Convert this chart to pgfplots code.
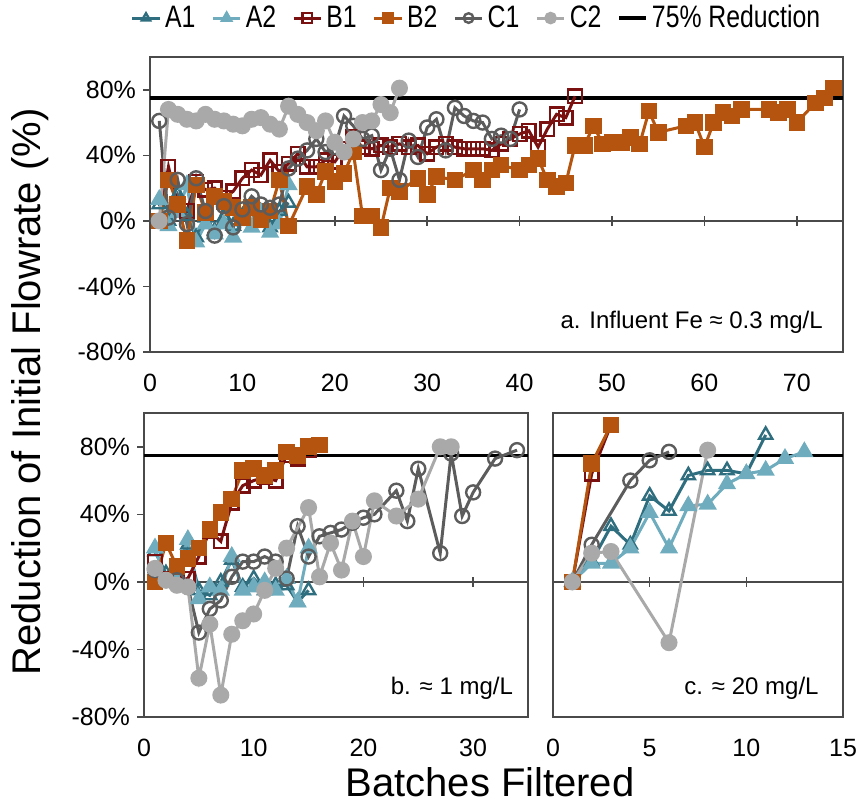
\documentclass[border=0pt]{standalone}
\usepackage{fontspec}
\setmainfont{Liberation Sans}
\newfontfamily\narrowfont[FakeStretch=0.8]{Liberation Sans}
\usepackage{pgfplots}
\pgfplotsset{compat=1.18}

\definecolor{aOne}{HTML}{2F6E7F}
\definecolor{aTwo}{HTML}{6FADBE}
\definecolor{bOne}{HTML}{7A1010}
\definecolor{bTwo}{HTML}{B4540F}
\definecolor{cOne}{HTML}{5C5C5C}
\definecolor{cTwo}{HTML}{A9A9A9}
\definecolor{axgray}{HTML}{4A4A4A}

\pgfplotsset{
  panel/.style={
    scale only axis,
    ymin=-80, ymax=100,
    ytick={-80,-40,0,40,80},
    yticklabel={\pgfmathprintnumber{\tick}\%},
    /pgf/number format/assume math mode=true,
    tick label style={font=\fontsize{12.5}{14}\selectfont},
    axis line style={draw=axgray, line width=0.8pt},
    tick align=outside,
    ytick pos=left,
    major tick length=3.5pt,
    ytick style={draw=axgray, line width=0.8pt},
    xtick style={draw=none},
    xticklabel style={yshift=-4pt},
    clip=false,
  },
  sA1/.style={color=aOne, line width=1.5pt, mark=triangle, mark size=3.8pt,
              mark options={line width=1.2pt, fill=white, solid}},
  sA2/.style={color=aTwo, line width=1.5pt, mark=triangle*, mark size=3.8pt,
              mark options={fill=aTwo, solid}},
  sB1/.style={color=bOne, line width=1.5pt, mark=square, mark size=3.4pt,
              mark options={line width=1.2pt, fill=white, solid}},
  sB2/.style={color=bTwo, line width=1.5pt, mark=square*, mark size=3.4pt,
              mark options={fill=bTwo, solid}},
  sC1/.style={color=cOne, line width=1.5pt, mark=o, mark size=3.5pt,
              mark options={line width=1.2pt, fill=white, solid}},
  sC2/.style={color=cTwo, line width=1.5pt, mark=*, mark size=3.5pt,
              mark options={fill=cTwo, solid}},
  target/.style={black, line width=1.6pt},
}

\begin{document}
\begin{tikzpicture}
\useasboundingbox (0,0) rectangle (430pt,-403.5pt);

% ---- a. Influent Fe 0.3 mg/L
\begin{axis}[panel,
  at={(75pt,-28.5pt)}, anchor=north west,
  width=346.5pt, height=147.5pt,
  xmin=0, xmax=75, xtick={0,10,...,70},
  legend columns=7,
  legend style={draw=none, fill=none, at={(0.4726,1.132)}, anchor=center,
    font=\narrowfont\fontsize{15.5}{17}\selectfont,
    /tikz/every even column/.append style={column sep=6pt}},
  legend image code/.code={\draw[mark repeat=2, mark phase=2, mark size=2.4pt]
    plot coordinates {(0cm,0cm) (0.24cm,0cm) (0.48cm,0cm)};},
]
\draw[axgray, line width=0.8pt] (axis cs:0,0) -- (axis cs:75,0);
\pgfplotsinvokeforeach{10,20,...,70}{
  \draw[axgray, line width=0.8pt] ([yshift=-2.5pt]axis cs:#1,0) -- ([yshift=2.5pt]axis cs:#1,0);}
\addplot[target, forget plot] coordinates {(0,75) (75,75)};
\addplot[sA1] coordinates {(1,10)(2,0)(3,16)(4,3)(5,-10)(6,2)(7,-6)(8,2)(9,-3)(10,3)(11,0)(12,4)(13,-4)(14,6)(15,11)};
\addlegendentry{A1}
\addplot[sA2] coordinates {(1,13)(2,-3)(3,5)(4,22)(5,-13)(6,-2)(7,-8)(8,-2)(9,-10)(10,0)(11,-4)(12,5)(13,-7)(14,-2)(15,22)};
\addlegendentry{A2}
\addplot[sB1] coordinates {(1,0)(2,33)(3,10)(4,6)(5,24)(6,19)(7,20)(8,14)(9,18)(10,26)(11,31)(12,28)(13,37)(14,30)(15,35)(16,41)(17,33)(18,33)(19,37)(20,36)(21,44)(22,51)(23,45)(24,44)(25,46)(26,45)(27,47)(28,45)(29,46)(30,41)(31,45)(32,47)(33,45)(34,44)(35,44)(36,44)(37,43)(38,47)(39,50)(40,53)(41,55)(42,45)(43,56)(44,65)(45,63)(46,76)};
\addlegendentry{B1}
\addplot[sB2] coordinates {(1,0)(2,25)(3,10)(4,-12)(5,22)(6,5)(7,15)(8,12)(9,8)(10,2)(11,8)(12,1)(13,6)(14,25)(15,-3)(17,21)(18,16)(19,30)(20,24)(21,29)(22,42)(23,3)(24,3)(25,-4)(26,20)(27,18)(29,26)(30,16)(31,27)(33,25)(35,31)(36,25)(37,31)(38,34)(40,31)(41,34)(42,38)(43,25)(44,21)(45,23)(46,46)(47,46)(48,58)(49,47)(50,48)(51,48)(52,51)(53,47)(54,67)(55,54)(58,58)(59,60)(60,45)(61,60)(62,66)(63,64)(64,68)(67,68)(68,66)(69,68)(70,60)(72,72)(73,75)(74,81)};
\addlegendentry{B2}
\addplot[sC1] coordinates {(1,61)(2,2)(3,25)(4,-2)(5,26)(6,6)(7,-9)(8,9)(9,-4)(10,7)(11,15)(12,10)(13,8)(14,10)(15,32)(16,38)(17,43)(18,50)(19,42)(20,45)(21,64)(22,58)(23,50)(24,52)(25,31)(26,44)(27,25)(28,49)(29,39)(30,57)(31,62)(32,43)(33,69)(34,64)(35,61)(36,60)(37,50)(38,52)(39,50)(40,68)};
\addlegendentry{C1}
\addplot[sC2] coordinates {(1,0)(2,68)(3,65)(4,62)(5,61)(6,65)(7,62)(8,61)(9,59)(10,58)(11,62)(12,63)(13,59)(14,56)(15,70)(16,65)(17,60)(18,55)(19,61)(20,48)(21,42)(22,50)(23,60)(24,61)(25,71)(26,66)(27,81)};
\addlegendentry{C2}
\addlegendimage{target}
\addlegendentry{75\% Reduction}
\node[anchor=east, font=\fontsize{12}{14}\selectfont] at (rel axis cs:0.981,0.10) {a. Influent Fe ≈ 0.3 mg/L};
\end{axis}

% ---- b. about 1 mg/L
\begin{axis}[panel,
  at={(72pt,-206.5pt)}, anchor=north west,
  width=192pt, height=152pt,
  xmin=0, xmax=35, xtick={0,10,20,30},
]
\draw[axgray, line width=0.8pt] (axis cs:0,0) -- (axis cs:35,0);
\pgfplotsinvokeforeach{10,20,30}{
  \draw[axgray, line width=0.8pt] ([yshift=-2.5pt]axis cs:#1,0) -- ([yshift=2.5pt]axis cs:#1,0);}
\addplot[target] coordinates {(0,75) (35,75)};
\addplot[sA1] coordinates {(1,18)(2,5)(3,8)(4,22)(5,-5)(6,-8)(7,0)(8,13)(9,-3)(10,2)(11,-5)(12,-2)(13,-2)(14,-12)(15,-5)};
\addplot[sA2] coordinates {(1,20)(2,0)(3,5)(4,25)(5,-10)(6,-3)(7,-5)(8,15)(9,-5)(10,-3)(11,0)(12,-5)(13,2)(14,-12)(15,20)};
\addplot[sB1] coordinates {(1,12)(2,2)(3,1)(4,2)(5,15)(6,30)(7,24)(8,47)(9,57)(10,60)(11,62)(12,60)(13,75)(14,73)(15,78)};
\addplot[sB2] coordinates {(1,0)(2,23)(3,9)(4,14)(5,20)(6,31)(7,41)(8,49)(9,66)(10,67)(11,63)(12,66)(13,77)(14,75)(15,80)(16,81)};
\addplot[sC1] coordinates {(1,7)(2,1)(3,1)(4,-3)(5,-30)(6,-16)(7,-11)(8,3)(9,12)(10,12)(11,15)(12,12)(13,2)(14,33)(15,15)(16,27)(17,29)(18,31)(19,35)(20,38)(21,40)(23,54)(24,36)(25,67)(27,17)(28,76)(29,39)(30,53)(32,73)(34,78)};
\addplot[sC2] coordinates {(1,8)(2,1)(3,-2)(4,-3)(5,-57)(6,-25)(7,-67)(8,-31)(9,-23)(10,-19)(11,-5)(12,8)(13,20)(15,44)(16,3)(17,23)(18,7)(19,36)(20,15)(21,48)(23,39)(25,49)(27,80)(28,80)};
\node[anchor=east, font=\fontsize{12}{14}\selectfont] at (rel axis cs:0.979,0.095) {b. ≈ 1 mg/L};
\end{axis}

% ---- c. about 20 mg/L
\begin{axis}[panel,
  at={(276.5pt,-206.5pt)}, anchor=north west,
  width=145pt, height=152pt,
  xmin=0, xmax=15, xtick={0,5,10,15},
  yticklabels={},
  ytick style={draw=none},
]
\draw[axgray, line width=0.8pt] (axis cs:0,0) -- (axis cs:15,0);
\pgfplotsinvokeforeach{5,10}{
  \draw[axgray, line width=0.8pt] ([yshift=-2.5pt]axis cs:#1,0) -- ([yshift=2.5pt]axis cs:#1,0);}
\addplot[target] coordinates {(0,75) (15,75)};
\addplot[sA1] coordinates {(1,0)(2,12)(3,33)(4,22)(5,51)(6,42)(7,63)(8,66)(9,66)(10,64)(11,87)};
\addplot[sA2] coordinates {(1,0)(2,11)(3,11)(4,20)(5,41)(6,20)(7,45)(8,46)(9,58)(10,64)(11,66)(12,73)(13,77)};
\addplot[sB1] coordinates {(1,0)(2,64)(3,93)};
\addplot[sB2] coordinates {(1,0)(2,70)(3,93)};
\addplot[sC1] coordinates {(1,0)(2,22)(4,60)(5,72)(6,77)};
\addplot[sC2] coordinates {(1,0)(2,17)(3,18)(6,-36)(8,78)};
\node[anchor=east, font=\fontsize{12}{14}\selectfont] at (rel axis cs:0.94,0.095) {c. ≈ 20 mg/L};
\end{axis}

\node[rotate=90, font=\fontsize{20}{24}\selectfont] at (15pt,-196pt) {Reduction of Initial Flowrate (\%)};
\node[font=\fontsize{20}{24}\selectfont] at (245pt,-391pt) {Batches Filtered};
\end{tikzpicture}
\end{document}
